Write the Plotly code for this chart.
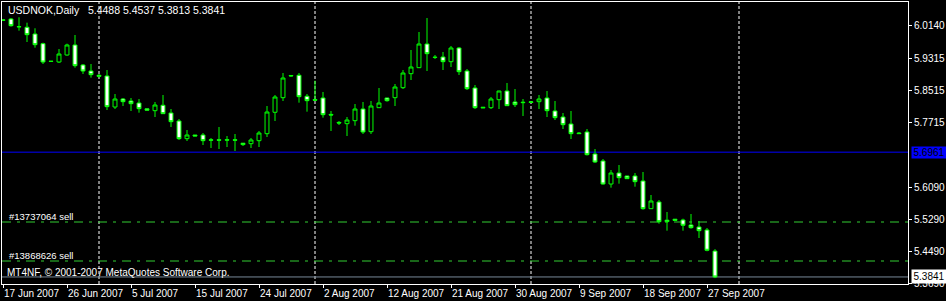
import plotly.graph_objects as go

# ---------------- data ----------------
bars = list(range(90))
opens = [6.0270, 6.0290, 6.0100, 6.0083, 5.9915, 5.9673, 5.9235, 5.9215, 5.9390, 5.9640,
         5.9140, 5.8990, 5.8883, 5.8865, 5.8090, 5.8290, 5.8240, 5.8190, 5.8045, 5.7998,
         5.8133, 5.7940, 5.7740, 5.7298, 5.7390, 5.7390, 5.7270, 5.7270, 5.7272, 5.7270,
         5.7185, 5.7173, 5.7248, 5.7423, 5.7958, 5.8323, 5.8878, 5.8883, 5.8358, 5.8275,
         5.8315, 5.7905, 5.7705, 5.7673, 5.7748, 5.8040, 5.7473, 5.8073, 5.8315, 5.8323,
         5.8573, 5.8923, 5.9073, 5.9665, 5.9335, 5.9340, 5.9223, 5.9565, 5.8990, 5.8565,
         5.8085, 5.8073, 5.8273, 5.8490, 5.8215, 5.8210, 5.8220, 5.8223, 5.8315, 5.7990,
         5.7840, 5.7665, 5.7440, 5.7465, 5.6915, 5.6740, 5.6165, 5.6440, 5.6365, 5.6365,
         5.6240, 5.5548, 5.5715, 5.5260, 5.5285, 5.5265, 5.5140, 5.5090, 5.5015, 5.4488]
highs = [6.0280, 6.0315, 6.0333, 6.0198, 6.0058, 5.9698, 5.9240, 5.9540, 5.9673, 5.9890,
         5.9165, 5.9165, 5.8915, 5.9015, 5.8415, 5.8315, 5.8315, 5.8290, 5.8045, 5.8215,
         5.8390, 5.8040, 5.7790, 5.7515, 5.7390, 5.7440, 5.7315, 5.7590, 5.7365, 5.7415,
         5.7190, 5.7315, 5.7490, 5.8115, 5.8390, 5.8940, 5.8890, 5.8940, 5.8415, 5.8748,
         5.8465, 5.7990, 5.7740, 5.7840, 5.8165, 5.8215, 5.8240, 5.8565, 5.8320, 5.8665,
         5.9015, 5.9515, 5.9965, 6.0315, 5.9390, 5.9465, 5.9615, 5.9590, 5.9040, 5.8640,
         5.8090, 5.8340, 5.8495, 5.8690, 5.8540, 5.8290, 5.8240, 5.8390, 5.8490, 5.8240,
         5.7940, 5.7990, 5.7465, 5.7540, 5.7040, 5.6790, 5.6515, 5.6640, 5.6370, 5.6440,
         5.6465, 5.5890, 5.5765, 5.5465, 5.5290, 5.5298, 5.5415, 5.5240, 5.5065, 5.4537]
lows = [6.0245, 6.0098, 5.9998, 5.9715, 5.9573, 5.9165, 5.9223, 5.9190, 5.9373, 5.9073,
        5.8915, 5.8823, 5.8833, 5.8015, 5.8040, 5.8115, 5.7990, 5.7948, 5.8005, 5.7840,
        5.7915, 5.7590, 5.7265, 5.7240, 5.7365, 5.7140, 5.7065, 5.7040, 5.7090, 5.6990,
        5.7115, 5.7065, 5.7090, 5.7340, 5.7740, 5.8240, 5.8848, 5.8198, 5.7973, 5.8255,
        5.7823, 5.7490, 5.7640, 5.7365, 5.7623, 5.7415, 5.7415, 5.8070, 5.8223, 5.8115,
        5.8540, 5.8765, 5.9070, 5.8990, 5.9290, 5.9015, 5.9090, 5.8890, 5.8515, 5.8040,
        5.8065, 5.8040, 5.8040, 5.8115, 5.8090, 5.7865, 5.8190, 5.8040, 5.7840, 5.7765,
        5.7540, 5.7290, 5.7415, 5.6878, 5.6690, 5.6148, 5.6073, 5.6173, 5.6290, 5.6098,
        5.5523, 5.5545, 5.5173, 5.4998, 5.5250, 5.4998, 5.5048, 5.4815, 5.4483, 5.3813]
closes = [6.0255, 6.0123, 6.0095, 5.9898, 5.9648, 5.9215, 5.9230, 5.9415, 5.9640, 5.9123,
          5.8990, 5.8898, 5.8858, 5.8098, 5.8290, 5.8223, 5.8173, 5.8048, 5.8010, 5.8140,
          5.7923, 5.7723, 5.7298, 5.7390, 5.7365, 5.7248, 5.7260, 5.7260, 5.7262, 5.7260,
          5.7150, 5.7265, 5.7440, 5.7965, 5.8340, 5.8815, 5.8868, 5.8348, 5.8248, 5.8260,
          5.7898, 5.7890, 5.7690, 5.7765, 5.8040, 5.7465, 5.8115, 5.8190, 5.8248, 5.8590,
          5.8940, 5.9090, 5.9665, 5.9423, 5.9330, 5.9223, 5.9565, 5.8973, 5.8548, 5.8073,
          5.8070, 5.8290, 5.8490, 5.8123, 5.8148, 5.8200, 5.8205, 5.8290, 5.7998, 5.7823,
          5.7648, 5.7423, 5.7425, 5.6898, 5.6715, 5.6165, 5.6440, 5.6323, 5.6298, 5.6223,
          5.5548, 5.5740, 5.5223, 5.5225, 5.5255, 5.5133, 5.5073, 5.4998, 5.4508, 5.3841]

date_ticks = [0, 8, 16, 24, 32, 40, 48, 56, 64, 72, 80, 88]
date_labels = ["17 Jun 2007", "26 Jun 2007", "5 Jul 2007", "15 Jul 2007", "24 Jul 2007",
               "2 Aug 2007", "12 Aug 2007", "21 Aug 2007", "30 Aug 2007", "9 Sep 2007",
               "18 Sep 2007", "27 Sep 2007"]
price_ticks = [6.0140, 5.9315, 5.8515, 5.7715, 5.6090, 5.5290, 5.4490, 5.3690]
price_labels = ["6.0140", "5.9315", "5.8515", "5.7715", "5.6090", "5.5290", "5.4490", "5.3690"]
separators = [12, 39, 66, 92]
blue_level = 5.6961
order_levels = [5.5215, 5.4240]
order_names = ["#13737064 sell", "#13868626 sell"]
bid = 5.3841
title = "USDNOK,Daily\u00a0\u00a0 5.4488 5.4537 5.3813 5.3841"
copyright_text = "MT4NF, \u00a9 2001-2007 MetaQuotes Software Corp."

# ---------------- figure ----------------
W, H = 946, 301
ML, MR, MT, MB = 2, 38, 2, 17
PW, PH = W - ML - MR, H - MT - MB
FONT = "Liberation Sans, Arial, sans-serif"
FS = 10
LIME = "#00ff00"

def fx(px):
    return (px - ML) / PW

def fy(py):
    return (H - MB - py) / PH

fig = go.Figure(go.Candlestick(
    x=bars, open=opens, high=highs, low=lows, close=closes,
    increasing=dict(line=dict(color=LIME, width=1), fillcolor="black"),
    decreasing=dict(line=dict(color=LIME, width=1), fillcolor="white"),
    whiskerwidth=0, showlegend=False, hoverinfo="skip",
))

shapes = []
for s in separators:
    shapes.append(dict(type="line", xref="x", yref="paper", x0=s, x1=s, y0=0, y1=1,
                       line=dict(color="white", width=1, dash="3px,2px"), layer="below"))
shapes.append(dict(type="line", xref="paper", yref="y", x0=0, x1=1, y0=blue_level, y1=blue_level,
                   line=dict(color="#0000ff", width=1), layer="below"))
for lv in order_levels:
    shapes.append(dict(type="line", xref="paper", yref="y", x0=0, x1=1, y0=lv, y1=lv,
                       line=dict(color="#32cd32", width=1, dash="9px,6px,3px,6px"), layer="below"))
shapes.append(dict(type="line", xref="paper", yref="y", x0=0, x1=1, y0=bid, y1=bid,
                   line=dict(color="#778899", width=1), layer="below"))

annotations = [
    dict(text=title, x=fx(6), y=fy(10), xref="paper", yref="paper", xanchor="left",
         yanchor="middle", showarrow=False, font=dict(family=FONT, size=FS + 0.5, color="white")),
    dict(text=copyright_text, x=fx(5), y=fy(272.5), xref="paper", yref="paper", xanchor="left",
         yanchor="middle", showarrow=False, font=dict(family=FONT, size=FS, color="white")),
]
for name, py in zip(order_names, [216, 255]):
    annotations.append(dict(text=name, x=fx(7), y=fy(py), xref="paper", yref="paper",
                            xanchor="left", yanchor="middle", showarrow=False,
                            font=dict(family=FONT, size=FS - 0.5, color="white")))
annotations.append(dict(text=f"{blue_level:.4f}", x=fx(911), y=blue_level, xref="paper", yref="y",
                        xanchor="left", yanchor="middle", showarrow=False, bgcolor="#0000ff",
                        width=34, height=11, borderpad=0, align="center",
                        font=dict(family=FONT, size=FS, color="black")))
annotations.append(dict(text=f"{bid:.4f}", x=fx(911), y=bid, xref="paper", yref="y",
                        xanchor="left", yanchor="middle", showarrow=False, bgcolor="white",
                        width=34, height=13, borderpad=0, align="center",
                        font=dict(family=FONT, size=FS, color="black")))

fig.update_layout(
    width=W, height=H, margin=dict(l=ML, r=MR, t=MT, b=MB, pad=0, autoexpand=False),
    paper_bgcolor="black", plot_bgcolor="black",
    shapes=shapes, annotations=annotations, hovermode=False,
    font=dict(family=FONT, size=FS, color="white"),
    xaxis=dict(range=[-0.125, 113.125], tickvals=date_ticks, ticktext=date_labels,
               ticks="outside", ticklen=3, tickcolor="white", tickwidth=1, tickangle=0,
               ticklabelposition="outside right", automargin=False,
               showgrid=False, zeroline=False, showline=True, linecolor="white", linewidth=1,
               mirror=True, rangeslider=dict(visible=False), fixedrange=True,
               tickfont=dict(family=FONT, size=FS, color="white")),
    yaxis=dict(range=[5.3665, 6.0715], side="right", tickvals=price_ticks, ticktext=price_labels,
               ticks="outside", ticklen=3, tickcolor="white", tickwidth=1, automargin=False,
               showgrid=False, zeroline=False, showline=True, linecolor="white", linewidth=1,
               mirror=True, fixedrange=True,
               tickfont=dict(family=FONT, size=FS, color="white")),
)

fig.write_html("out.html", config={"displayModeBar": False})
